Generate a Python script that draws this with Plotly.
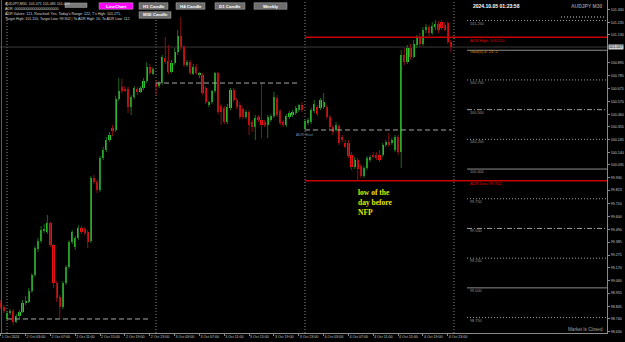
import plotly.graph_objects as go

# ---------------- data (AUDJPY M30, bar index 0 = 2 Oct 00:00) ----------------
bar_index = list(range(-2, 144))
opens = [
    98.872, 98.839,
    98.738, 98.788, 98.805, 98.712, 98.763, 98.797, 98.872, 98.881, 98.973, 99.108,
    99.327, 99.394, 99.478, 99.470, 99.546, 99.361, 99.041, 98.923, 98.839, 99.041,
    99.175, 99.386, 99.344, 99.420, 99.504, 99.495, 99.470, 99.394, 99.925, 99.891,
    99.824, 100.093, 100.160, 100.244, 100.345, 100.329, 100.590, 100.691, 100.674, 100.674,
    100.522, 100.606, 100.674, 100.649, 100.682, 100.741, 100.859, 100.800, 100.724, 100.699,
    100.724, 100.935, 100.910, 100.817, 100.893, 100.985, 101.120, 101.027, 100.876, 100.901,
    100.800, 100.859, 100.792, 100.792, 100.682, 100.539, 100.564, 100.657, 100.808, 100.531,
    100.514, 100.396, 100.514, 100.665, 100.581, 100.539, 100.505, 100.438, 100.480, 100.396,
    100.354, 100.438, 100.413, 100.396, 100.371, 100.413, 100.447, 100.598, 100.489, 100.396,
    100.371, 100.438, 100.455, 100.472, 100.497, 100.539,
    100.337, 100.388, 100.396, 100.489, 100.522, 100.514, 100.522, 100.522, 100.438, 100.354,
    100.329, 100.362, 100.270, 100.219, 100.219, 100.118, 100.017, 100.076, 100.026, 99.941,
    100.009, 100.076, 100.118, 100.118, 100.118, 100.118, 100.202, 100.228, 100.219, 100.160,
    100.270, 100.143, 100.960, 100.901, 101.019, 100.943, 101.044, 101.103, 101.053, 101.170,
    101.196, 101.145, 101.196, 101.221, 101.238, 101.213, 101.229, 101.069,
]
highs = [
    98.898, 98.856,
    98.805, 98.822, 98.822, 98.780, 98.813, 98.898, 98.931, 98.999, 99.125, 99.352,
    99.420, 99.521, 99.537, 99.613, 99.554, 99.369, 99.058, 98.940, 99.058, 99.192,
    99.403, 99.487, 99.436, 99.529, 99.521, 99.512, 99.487, 99.941, 99.950, 99.908,
    100.110, 100.186, 100.270, 100.312, 100.371, 100.615, 100.766, 100.758, 100.699, 100.691,
    100.623, 100.699, 100.691, 100.699, 100.766, 100.901, 100.884, 100.859, 100.750, 100.741,
    100.960, 101.112, 101.044, 100.918, 101.019, 101.170, 101.280, 101.044, 100.918, 100.918,
    100.884, 100.884, 100.817, 100.808, 100.699, 100.573, 100.665, 100.817, 100.817, 100.548,
    100.531, 100.548, 100.682, 100.682, 100.598, 100.564, 100.522, 100.497, 100.497, 100.413,
    100.455, 100.455, 100.724, 100.413, 100.455, 100.463, 100.649, 100.623, 100.505, 100.413,
    100.463, 100.489, 100.497, 100.531, 100.548, 100.564,
    100.421, 100.430, 100.514, 100.581, 100.539, 100.598, 100.640, 100.539, 100.455, 100.371,
    100.396, 100.379, 100.287, 100.244, 100.244, 100.143, 100.101, 100.093, 100.042, 100.026,
    100.110, 100.118, 100.143, 100.143, 100.160, 100.219, 100.244, 100.303, 100.261, 100.287,
    100.287, 101.002, 101.019, 101.044, 101.053, 101.086, 101.128, 101.145, 101.196, 101.221,
    101.213, 101.238, 101.255, 101.246, 101.255, 101.238, 101.246, 101.086,
]
lows = [
    98.822, 98.788,
    98.721, 98.771, 98.687, 98.704, 98.746, 98.788, 98.856, 98.872, 98.957, 99.091,
    99.302, 99.377, 99.462, 99.453, 99.344, 98.999, 98.881, 98.746, 98.822, 99.024,
    99.159, 99.369, 99.318, 99.403, 99.453, 99.445, 99.335, 99.377, 99.874, 99.798,
    99.807, 100.076, 100.143, 100.228, 100.278, 100.312, 100.573, 100.640, 100.649, 100.472,
    100.455, 100.590, 100.623, 100.640, 100.665, 100.724, 100.792, 100.792, 100.623, 100.682,
    100.707, 100.884, 100.800, 100.808, 100.876, 100.960, 101.002, 100.859, 100.859, 100.792,
    100.792, 100.792, 100.766, 100.623, 100.548, 100.522, 100.548, 100.640, 100.463, 100.371,
    100.379, 100.379, 100.497, 100.564, 100.505, 100.421, 100.421, 100.421, 100.287, 100.312,
    100.244, 100.396, 100.261, 100.354, 100.261, 100.396, 100.430, 100.438, 100.371, 100.354,
    100.354, 100.421, 100.438, 100.455, 100.480, 100.480,
    100.329, 100.371, 100.379, 100.472, 100.447, 100.497, 100.505, 100.421, 100.337, 100.287,
    100.312, 100.202, 100.228, 100.177, 100.093, 99.992, 100.000, 99.908, 99.925, 99.925,
    99.992, 100.059, 100.093, 100.076, 100.059, 100.101, 100.186, 100.186, 100.202, 100.143,
    100.118, 100.009, 100.876, 100.884, 100.918, 100.935, 101.019, 101.027, 101.036, 101.145,
    101.120, 101.128, 101.170, 101.145, 101.170, 101.162, 101.053, 100.985,
]
closes = [
    98.839, 98.805,
    98.788, 98.805, 98.712, 98.763, 98.797, 98.872, 98.889, 98.973, 99.108, 99.335,
    99.394, 99.487, 99.495, 99.546, 99.361, 99.041, 98.914, 98.839, 99.041, 99.175,
    99.386, 99.470, 99.420, 99.504, 99.470, 99.462, 99.386, 99.925, 99.891, 99.824,
    100.093, 100.160, 100.244, 100.287, 100.320, 100.590, 100.657, 100.657, 100.665, 100.522,
    100.606, 100.682, 100.649, 100.682, 100.741, 100.859, 100.808, 100.842, 100.691, 100.724,
    100.943, 100.901, 100.817, 100.893, 100.985, 101.120, 101.027, 100.876, 100.901, 100.808,
    100.859, 100.808, 100.808, 100.640, 100.564, 100.564, 100.657, 100.808, 100.480, 100.480,
    100.396, 100.522, 100.665, 100.581, 100.522, 100.438, 100.438, 100.480, 100.371, 100.354,
    100.430, 100.413, 100.371, 100.371, 100.438, 100.447, 100.606, 100.455, 100.388, 100.371,
    100.447, 100.472, 100.480, 100.514, 100.539, 100.497,
    100.404, 100.413, 100.497, 100.548, 100.463, 100.581, 100.564, 100.438, 100.354, 100.312,
    100.371, 100.219, 100.244, 100.186, 100.110, 100.017, 100.076, 100.000, 99.941, 100.009,
    100.093, 100.101, 100.101, 100.093, 100.076, 100.202, 100.228, 100.202, 100.244, 100.270,
    100.143, 100.960, 100.901, 101.019, 100.943, 101.053, 101.103, 101.053, 101.170, 101.196,
    101.145, 101.204, 101.221, 101.170, 101.187, 101.170, 101.069, 101.027,
]

time_tick_bars = [-2, 6, 14, 22, 30, 38, 46, 54, 62, 70, 78, 86, 94, 102, 110, 118, 126, 134, 142]
time_tick_text = ["1 Oct 2024", "2 Oct 03:00", "2 Oct 07:00", "2 Oct 11:00", "2 Oct 15:00",
                  "2 Oct 19:00", "2 Oct 23:00", "3 Oct 03:00", "3 Oct 07:00", "3 Oct 11:00",
                  "3 Oct 15:00", "3 Oct 19:00", "3 Oct 23:00", "4 Oct 03:00", "4 Oct 07:00",
                  "4 Oct 11:00", "4 Oct 15:00", "4 Oct 19:00", "4 Oct 23:00"]
price_ticks = [98.630, 98.740, 98.845, 98.955, 99.060, 99.170, 99.275, 99.385, 99.490, 99.600,
               99.710, 99.823, 99.930, 100.035, 100.140, 100.245, 100.355, 100.460, 100.570,
               100.675, 100.785, 100.895, 101.130, 101.235, 101.340]

day_separators = [0, 48, 96, 144]
day_open_start = [0, 48, 96]
day_open_end = [46.2, 94.3, 143.3]
day_open_price = [98.738, 100.724, 100.329]

round_levels = [101.25, 101.0, 100.75, 100.5, 100.25, 100.0, 99.75, 99.5, 99.25, 99.0, 98.75]
round_labels = ["101.250", "", "100.750", "100.500", "100.250", "100.000",
                "99.750", "99.500", "99.250", "99.000", "98.750"]
adr_high = 101.110
adr_low = 99.902
bid = 101.027

X_RANGE = [-2.255, 193.3]
Y_RANGE = [98.620, 101.423]
PW, PH = 607.0, 333.0


def fx(px):
    return px / PW


def fy(py):
    return 1 - py / PH


GREEN, GREEN_W = "#2fc42f", "#1d6b1d"
RED, RED_W = "#e81212", "#8a1010"
FONT = "Liberation Sans"

fig = go.Figure()

# wicks
for up, col in [(True, GREEN_W), (False, RED_W)]:
    xs, ys = [], []
    for i, o, h, l, c in zip(bar_index, opens, highs, lows, closes):
        if (c >= o) == up:
            xs += [i, i, None]
            ys += [l, h, None]
    fig.add_trace(go.Scatter(x=xs, y=ys, mode="lines", line=dict(color=col, width=1),
                             hoverinfo="skip", showlegend=False))

# bodies
for up, col in [(True, GREEN), (False, RED)]:
    xs, base, hgt = [], [], []
    for i, o, c in zip(bar_index, opens, closes):
        if (c >= o) == up:
            xs.append(i)
            base.append(min(o, c))
            hgt.append(abs(c - o))
    fig.add_trace(go.Bar(x=xs, y=hgt, base=base, width=0.7, marker=dict(color=col, line=dict(width=0)),
                         hoverinfo="skip", showlegend=False))

DOT = "1px,2px"
DASHDOT = "5px,2px,1px,2px"

shapes = []
# day separators
for s in day_separators:
    shapes.append(dict(type="line", xref="x", yref="paper", x0=s, x1=s, y0=0, y1=1,
                       line=dict(color="#8a8a8a", width=1, dash=DOT), layer="below"))
# daily open lines
for x0, x1, p in zip(day_open_start, day_open_end, day_open_price):
    shapes.append(dict(type="line", xref="x", yref="y", x0=x0, x1=x1, y0=p, y1=p,
                       line=dict(color="#a8a8a8", width=1, dash="5px,3px")))
# bid line across the chart
shapes.append(dict(type="line", xref="paper", yref="y", x0=0, x1=1, y0=bid, y1=bid,
                   line=dict(color="#3a3a3a", width=1), layer="below"))
# round number levels
for lv in round_levels:
    frac = round((lv % 1) * 1000)
    dash = "solid" if frac == 0 else (DASHDOT if frac == 500 else DOT)
    col = "#8c8c8c" if frac == 0 else "#a0a0a0"
    shapes.append(dict(type="line", xref="x", yref="y", x0=148.2, x1=X_RANGE[1], y0=lv, y1=lv,
                       line=dict(color=col, width=1, dash=dash)))
# ADR lines
for p in (adr_high, adr_low):
    shapes.append(dict(type="line", xref="x", yref="y", x0=96, x1=X_RANGE[1], y0=p, y1=p,
                       line=dict(color="#c80000", width=1.5)))
# left border
shapes.append(dict(type="line", xref="paper", yref="paper", x0=fx(1.5), x1=fx(1.5), y0=0, y1=1,
                   line=dict(color="#5a5a5a", width=1)))
# short dotted line under symbol label
shapes.append(dict(type="line", xref="paper", yref="paper", x0=fx(561), x1=fx(605), y0=fy(17), y1=fy(17),
                   line=dict(color="#d0d0d0", width=1, dash=DOT)))

annotations = []
# header text (drawn first, buttons cover their ends as in the terminal)
header = [("AUDJPY,M30  101.071 101.085 101.004", 4.5),
          ("ADR: 0000000000000000000000", 8.8),
          ("ADR Values: 121, Reached: Yes, Today's Range: 122, T's High: 101.271,", 14.5),
          ("Target High: 101.110, Target Low: 99.902 | To ADR High: 10, To ADR Low: 112", 18.5)]
for txt, yc in header:
    annotations.append(dict(xref="paper", yref="paper", x=fx(3), y=fy(yc), text=txt, showarrow=False,
                            xanchor="left", yanchor="middle", font=dict(family=FONT, size=3.6, color="#d8d8d8")))

# buttons
buttons = [("", 65, 87, 3, 7.5, "#7a7a7a"),
           ("LineChart", 99, 133, 2.7, 9.3, "#ff00ff"),
           ("H1 Candle", 139, 168, 2.7, 9.3, "#6e6e6e"),
           ("H4 Candle", 176, 205, 2.7, 9.3, "#6e6e6e"),
           ("D1 Candle", 215, 245, 2.7, 9.3, "#6e6e6e"),
           ("Weekly", 254, 287, 2.7, 9.3, "#6e6e6e"),
           ("M30 Candle", 139, 171, 11.7, 18.3, "#6e6e6e")]
for txt, x0, x1, y0, y1, col in buttons:
    shapes.append(dict(type="rect", xref="paper", yref="paper", x0=fx(x0), x1=fx(x1), y0=fy(y1), y1=fy(y0),
                       fillcolor=col, line=dict(color="#a8a8a8", width=0.5)))
    if txt:
        annotations.append(dict(xref="paper", yref="paper", x=fx((x0 + x1) / 2), y=fy((y0 + y1) / 2),
                                text="<b>%s</b>" % txt, showarrow=False, xanchor="center", yanchor="middle",
                                font=dict(family=FONT, size=4.4, color="#ffffff")))

annotations += [
    dict(xref="paper", yref="paper", x=fx(471), y=fy(6), text="<b>2024.10.05 01:23:58</b>", showarrow=False,
         xanchor="left", yanchor="middle", font=dict(family=FONT, size=5, color="#ffffff")),
    dict(xref="paper", yref="paper", x=fx(605), y=fy(6), text="<b>AUDJPY M30</b>", showarrow=False,
         xanchor="right", yanchor="middle", font=dict(family=FONT, size=5, color="#8a8a8a")),
    dict(xref="paper", yref="paper", x=fx(605), y=fy(329), text="Market Is Closed", showarrow=False,
         xanchor="right", yanchor="middle", font=dict(family=FONT, size=4.6, color="#a0a0a0")),
    dict(xref="x", yref="y", x=148.6, y=adr_high, yshift=-3, text="ADR High: 101.110", showarrow=False,
         xanchor="left", yanchor="middle", font=dict(family=FONT, size=4, color="#e00000")),
    dict(xref="x", yref="y", x=148.6, y=adr_low, yshift=-3, text="ADR Low: 99.902", showarrow=False,
         xanchor="left", yanchor="middle", font=dict(family=FONT, size=4, color="#e00000")),
    dict(xref="x", yref="y", x=148.6, y=bid, yshift=-4, text="&lt;bar(0)-4: 23 :2", showarrow=False,
         xanchor="left", yanchor="middle", font=dict(family=FONT, size=4, color="#e08a00")),
    dict(xref="x", yref="y", x=96, y=100.287, text="ADR Start", showarrow=False,
         xanchor="center", yanchor="middle", font=dict(family=FONT, size=3.8, color="#6f8fb0")),
    dict(xref="x", yref="y", x=112.3, y=99.86, text="<b>low of the<br>day before<br>NFP</b>", showarrow=False,
         xanchor="left", yanchor="top", align="left",
         font=dict(family="Liberation Serif", size=7.5, color="#e6e600")),
    dict(xref="paper", yref="y", x=1, y=bid, text="101.027", showarrow=False, xanchor="left", yanchor="middle",
         bgcolor="#d0d0d0", borderpad=0, xshift=1, font=dict(family=FONT, size=3.8, color="#000000")),
]
for lv, lab in zip(round_levels, round_labels):
    if lab:
        annotations.append(dict(xref="x", yref="y", x=148.6, y=lv, yshift=-3, text=lab, showarrow=False,
                                xanchor="left", yanchor="middle",
                                font=dict(family=FONT, size=3.8, color="#9a9a9a")))

fig.update_layout(
    width=625, height=342,
    margin=dict(l=0, r=18, t=0, b=9),
    paper_bgcolor="#000000", plot_bgcolor="#000000",
    barmode="overlay", bargap=0,
    showlegend=False,
    shapes=shapes, annotations=annotations,
    xaxis=dict(range=X_RANGE, showgrid=False, zeroline=False, showline=True, linecolor="#8a8a8a", linewidth=1,
               tickmode="array", tickvals=time_tick_bars, ticktext=time_tick_text, tickangle=0,
               ticks="outside", ticklen=2, tickcolor="#8a8a8a", ticklabelposition="outside right",
               ticklabelstandoff=0,
               tickfont=dict(family=FONT, size=3.6, color="#c8c8c8"), fixedrange=True),
    yaxis=dict(range=Y_RANGE, side="right", showgrid=False, zeroline=False, showline=True,
               linecolor="#8a8a8a", linewidth=1, tickmode="array", tickvals=price_ticks,
               tickformat=".3f", ticks="outside", ticklen=2, tickcolor="#8a8a8a", ticklabelstandoff=0,
               tickfont=dict(family=FONT, size=3.6, color="#c8c8c8"), fixedrange=True),
)

fig.write_html("out.html")
